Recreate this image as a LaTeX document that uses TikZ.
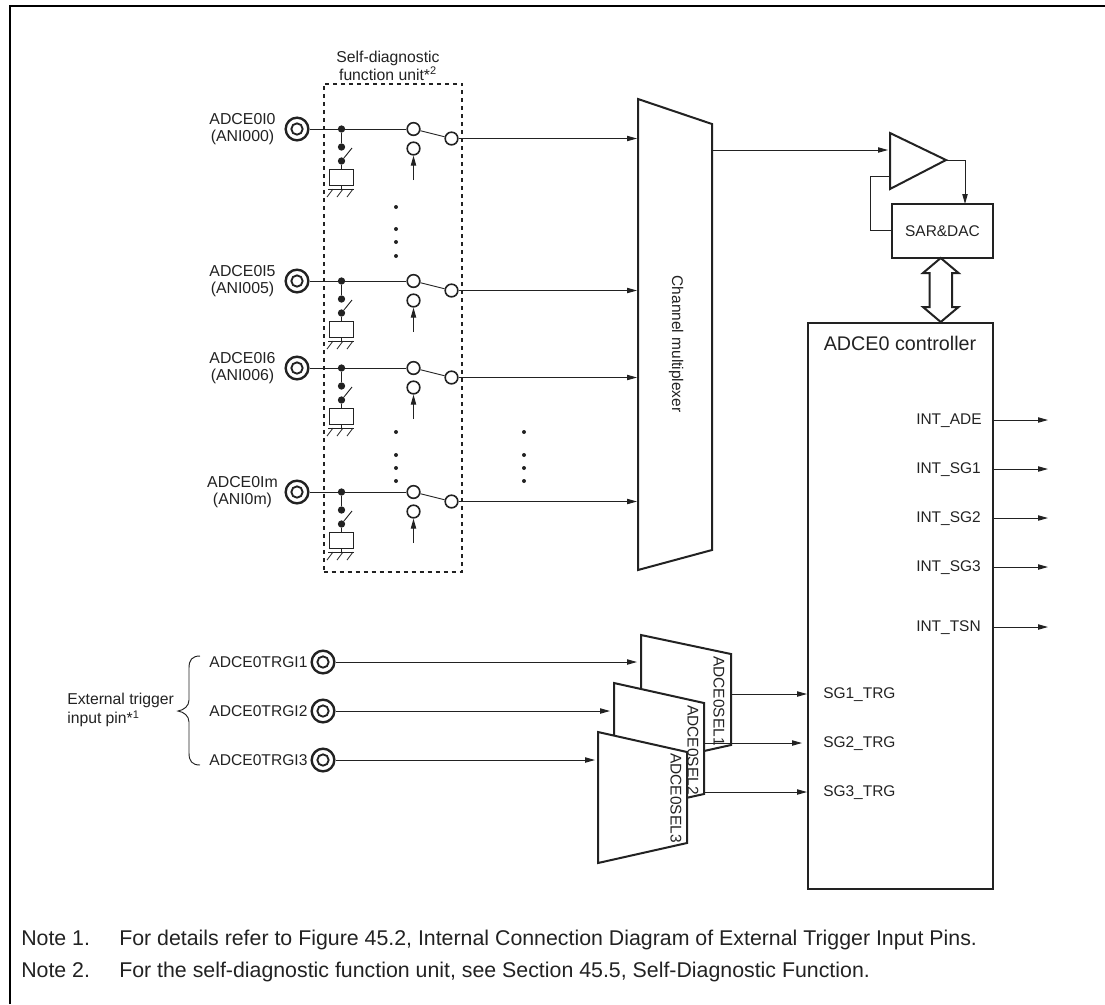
\documentclass[tikz,border=0pt]{standalone}
\usepackage{fontspec}
\setmainfont{Liberation Sans}
\usetikzlibrary{arrows.meta}
\definecolor{ink}{HTML}{222222}
\newcommand{\fs}[2]{\fontsize{#1}{#2}\selectfont}
\tikzset{
  thickline/.style={draw=ink,line width=1.5pt,line join=miter},
  thinline/.style={draw=ink,line width=0.7pt},
  arr/.style={thinline,-{Triangle[length=7.5pt,width=4pt]}},
  ring/.style={circle,draw=ink,line width=1.8pt,minimum size=17pt,inner sep=0pt,fill=white},
  ringin/.style={circle,draw=ink,line width=1.4pt,minimum size=8.5pt,inner sep=0pt},
  contact/.style={circle,draw=ink,line width=1.2pt,minimum size=9.5pt,inner sep=0pt,fill=white},
  dotj/.style={circle,fill=ink,minimum size=5.5pt,inner sep=0pt},
  dotsm/.style={circle,fill=ink,minimum size=3pt,inner sep=0pt},
  lbl/.style={text=ink,inner sep=0pt,font=\fs{11.6}{13}},
}
\begin{document}
\begin{tikzpicture}[x=0.75pt,y=-0.75pt]
\useasboundingbox (0,0) rectangle (1105,1004);
% frame
\draw[black,line width=1.5pt] (10,1004) -- (10,6) -- (1105,6);
% self-diagnostic unit
\node[lbl,align=center,font=\fs{11.8}{9.8}] (sdl) at (388,66) {Self-diagnostic\\function unit*\textsuperscript{2}};
\node[draw=ink,line width=1.5pt,dash pattern=on 3pt off 3pt,minimum width=104pt,minimum height=366pt,inner sep=0pt] (sdu) at (393,327.5) {};
% mux
\draw[thickline,fill=white] (638,99) -- (712,124) -- (712,550) -- (638,570) -- cycle;
\coordinate (muxout) at (712,150);
\node[lbl,rotate=-90] (muxl) at (676,344) {Channel multiplexer};
% rows
\foreach \r/\y/\a/\b in {0/129/ADCE0I0/(ANI000),5/281/ADCE0I5/(ANI005),6/368/ADCE0I6/(ANI006),m/492/ADCE0Im/(ANI0m)}{
  \node[ring] (p\r) at (297,\y) {};
  \node[ringin] (pi\r) at (297,\y) {};
  \node[lbl,align=center,font=\fs{11.9}{12.7}] (pl\r) at (242.5,\y) {\a\\\b};
  \node[dotj] (j\r) at (341.5,\y) {};
  \node[dotj] (ja\r) at (341.5,\y+18) {};
  \node[dotj] (jb\r) at (341.5,\y+32) {};
  \node[contact] (ca\r) at (413.5,\y) {};
  \node[contact] (cb\r) at (413.5,\y+19.5) {};
  \node[contact] (co\r) at (451.5,\y+9.5) {};
  \coordinate (ctl\r) at (413.5,\y+51);
  \coordinate (sw\r) at (352,\y+19);
  \coordinate (gl\r) at (328,\y+60);
  \coordinate (gr\r) at (354,\y+60);
  \coordinate (gm\r) at (341.5,\y+60);
  \node[draw=ink,line width=0.8pt,minimum width=17.5pt,minimum height=12.5pt,inner sep=0pt] (rb\r) at (341.5,\y+48.5) {};
  \coordinate (mi\r) at (637,\y+9.5);
  \draw[thinline] (p\r) -- (j\r) -- (ca\r);
  \draw[thinline] (j\r) -- (ja\r);
  \draw[thinline] (jb\r) -- (sw\r);
  \draw[thinline] (jb\r) -- (rb\r);
  \draw[thinline] (rb\r) -- (gm\r);
  \draw[thinline] (gl\r) -- (gr\r);
  \foreach \hx in {330,340,350}{ \draw[draw=ink,line width=0.6pt] (\hx+3,\y+60) -- (\hx-3,\y+68); }
  \draw[thinline] (ca\r) -- (co\r);
  \draw[arr] (ctl\r) -- (cb\r);
  \draw[arr] (co\r) -- (mi\r);
}
% dots
\foreach \n/\x/\y in {a/396/207,b/396/229,c/396/242,d/396/256,e/396/432,f/396/455,g/396/468,h/396/481,i/524/432,j/524/455,k/524/468,l/524/481}{
  \node[dotsm] (dt\n) at (\x,\y) {};
}
% amp and SAR
\draw[thickline,fill=white] (890,133) -- (946,160) -- (890,189) -- cycle;
\coordinate (ampin) at (888,150);
\coordinate (ampout) at (946,160);
\coordinate (ampfb) at (890,176);
\node[lbl,draw=ink,line width=1.5pt,minimum width=75.5pt,minimum height=40pt] (sar) at (942.5,231) {SAR\&DAC};
\coordinate (sarin) at (965,204);
\coordinate (fbc) at (870,230);
\draw[arr] (muxout) -- (ampin);
\draw[arr] (ampout) -| (sarin);
\draw[thinline] (ampfb) -| (fbc) -- (sar.west |- fbc);
% controller
\node[thickline,minimum width=138.75pt,minimum height=424.5pt,inner sep=0pt] (ctrl) at (900.5,605.5) {};
\node[lbl,font=\fs{14.8}{16}] (ctrll) at (900,343.5) {ADCE0 controller};
\draw[thickline,fill=white] (940.7,258) -- (958.5,273) -- (952,273) -- (952,307) -- (958.5,307) -- (940.7,322) -- (923,307) -- (929.5,307) -- (929.5,273) -- (923,273) -- cycle;
% outputs
\foreach \n/\t/\y in {a/INT\_ADE/420,b/INT\_SG1/469,c/INT\_SG2/518,d/INT\_SG3/567,e/INT\_TSN/627}{
  \node[lbl,anchor=west] (o\n) at (916,\y+1) {\t};
  \coordinate (os\n) at (993,\y);
  \coordinate (oe\n) at (1048,\y);
  \draw[arr] (os\n) -- (oe\n);
}
% triggers
\foreach \n/\t/\y/\xe in {1/ADCE0TRGI1/662/637,2/ADCE0TRGI2/711/610,3/ADCE0TRGI3/760/595}{
  \node[ring] (t\n) at (323,\y) {};
  \node[ringin] (ti\n) at (323,\y) {};
  \node[lbl,anchor=east,font=\fs{11.7}{13}] (tl\n) at (307.7,\y) {\t};
  \coordinate (te\n) at (\xe,\y);
  \draw[arr] (t\n) -- (te\n);
}
\draw[thinline] (200,656) .. controls (192,656) and (189,660) .. (189,668) -- (189,700) .. controls (189,706) and (184,710) .. (178,711) .. controls (184,712) and (189,716) .. (189,722) -- (189,753) .. controls (189,761) and (192,765) .. (200,765);
\node[lbl,anchor=west,align=left,font=\fs{11.8}{14.6}] (ext) at (67,710) {External trigger\\input pin*\textsuperscript{1}};
% selectors
\draw[thickline,fill=white] (641,635) -- (731,654) -- (731,745) -- (641,765) -- cycle;
\node[lbl,rotate=-90] (s1) at (719,701) {ADCE0SEL1};
\draw[thickline,fill=white] (614,683) -- (704,703) -- (704,794) -- (614,814) -- cycle;
\node[lbl,rotate=-90] (s2) at (693,750) {ADCE0SEL2};
\draw[thickline,fill=white] (598,732) -- (687,752) -- (687,843) -- (598,863) -- cycle;
\node[lbl,rotate=-90] (s3) at (676,798) {ADCE0SEL3};
\foreach \n/\t/\y/\xs/\xe in {1/SG1\_TRG/694/731/807,2/SG2\_TRG/743/704/802,3/SG3\_TRG/792/704/807}{
  \coordinate (ss\n) at (\xs,\y);
  \coordinate (se\n) at (\xe,\y);
  \draw[arr] (ss\n) -- (se\n);
  \node[lbl,anchor=west] (sg\n) at (823,\y+1) {\t};
}
% notes
\node[lbl,anchor=base west,font=\fs{16}{18}] (n1a) at (21,945) {Note 1.};
\node[lbl,anchor=base west,font=\fs{16}{18}] (n1b) at (119,945) {For details refer to Figure 45.2, Internal Connection Diagram of External Trigger Input Pins.};
\node[lbl,anchor=base west,font=\fs{16}{18}] (n2a) at (21,977) {Note 2.};
\node[lbl,anchor=base west,font=\fs{16}{18}] (n2b) at (119,977) {For the self-diagnostic function unit, see Section 45.5, Self-Diagnostic Function.};
\end{tikzpicture}
\end{document}
